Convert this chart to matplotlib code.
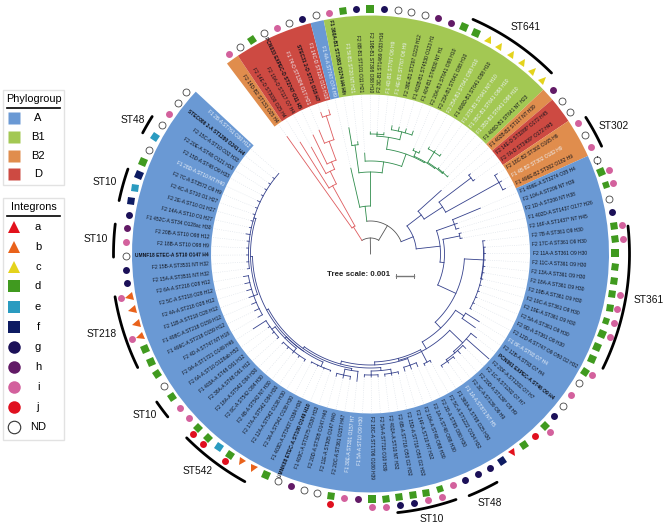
import numpy as np
import matplotlib
matplotlib.use('Agg')
import matplotlib.pyplot as plt
from matplotlib.markers import MarkerStyle
from matplotlib.patches import Rectangle
from matplotlib.transforms import Affine2D

plt.rcParams['font.family'] = ['Liberation Sans', 'DejaVu Sans']

# tips clockwise, starting right after the gap at the top left
labels = [
    'F2 14D-B2 ST131 O25 H4', 'F2 14E-D ST3036 O25 H4', 'F2 19A-D ST117 O7 H4', 'PCN033 EXPEC-D ST2747 O11 H5',
    'F1 74-D ST1304 O17 H21', 'STEC31 2-D ST71 O18 H7', 'F1 14C-D ST120 O15 H18', 'F1 4A-A ST747 O74 H9',
    'F1 360A-B1 ST1081 O174 H4 Hfr', 'F1 5I-B1 ST20 NT H21', 'F2 8B-B1 ST101 O11 H21', 'F2 19B-B1 ST398 O88 H10',
    'F2 3C-B1 ST1469 O33 H16', 'F1 4D-B1 ST767 O6 H9', 'F1 4E-B1 ST767 O6 H9', 'F2 38E-B1 ST297 O223 H12',
    'F1 402B-B1 ST4530 O123 H1', 'F1 404-B1 ST4830 NT H1', 'F2 20A-B1 ST641 O88 H10', 'F2 23A-B1 ST641 O88 H10',
    'F2 25A-B1 ST641 O88 H10', 'F1 490D-B1 ST641 O88 H10', 'F1 27D-B1 ST641 NT H10', 'F1 35C-B1 ST641 O88 H10',
    'F1 35D-B1 ST641 O88 H10', 'F1 400D-B1 ST641 NT H23', 'F1 402B-B2 ST117 NT H39', 'F2 14E-D ST3288* O172 H45',
    'F2 7A-D ST3409* O172 H45', 'F2 18C-B2 ST302 O165 H6', 'F1 4B-B2 ST302 O182 H9', 'F1 496E-B2 ST302 O182 H9',
    'F1 496E-A ST3274 O35 H4', 'F2 10A-A ST206 NT H39', 'F2 1D-A ST206 NT H38', 'F1 402D-A ST1437 O177 H26',
    'F2 16F-A ST1437* NT H45', 'F2 7B-A ST361 O9 H30', 'F2 17C-A ST361 O9 H30', 'F2 11A-A ST361 O9 H30',
    'F2 11C-A ST361 O9 H30', 'F2 13A-A ST361 O9 H30', 'F2 18A-A ST361 O9 H30', 'F2 19B-A ST361 O9 H30',
    'F2 19C-A ST361 O9 H30', 'F2 19E-A ST361 O9 H30', 'F2 5A-A ST361 O9 H30', 'F2 9D-A ST361 O9 H30',
    'F2 12D-A ST747 O9 O50 O2 H32', 'F1 8F-A ST93 O7 H4', 'F2 12B-A ST93 O7 H4', 'PCN061 EXPEC-A ST46 O9 H4',
    'F2 20F-A ST1202 O7 H7', 'F2 1C-A ST1202 O7 H7', 'F2 20D-A ST139* O8 H9', 'F2 3C-A ST139 O9 H9',
    'F1 1A-A ST871 NT H5', 'F1 360A-A ST98 O25 H30', 'F2 5C-A ST1222 O154 H32', 'F2 2D-A ST95 O80 H30',
    'F2 1A-A ST48 O88 H30', 'F2 10A-A ST48 O88 H30', 'F2 14F-A ST10 H7 H32', 'F2 15D-A ST716 O50 O2 H32',
    'F2 6B-A ST716 O50 O2 H32', 'F2 402A-A ST10 NT H32', 'F2 5A-A ST718 O10 H39', 'F2 18C-A ST1706 O180 H39',
    'F1 5A-A ST10 O9 H30', 'F1 30E-A ST301 O157 H7', 'F2 20C-A ST361 O157 H47', 'F2 11E-A ST305 O147 H40',
    'F2 20D-A ST305 O147 H40', 'F1 403C-A ST3275 O530 H33', 'UMNK88 ETEC-A ST100 O149 H10', 'F1 403D-A ST3437 O384 H30',
    'F2 3A-A ST542 O138 H30', 'F2 12A-A ST542 O138 H30', 'F2 17A-A ST542 O84 H30', 'F2 4B-A ST542 NT H30',
    'F2 8C-A ST542 O84 H30', 'F2 18A-A ST542 O84 H30', 'F2 38A-A ST48 O61 H12', 'F1 403A-A ST48 O61 H12',
    'F2 6A-A ST10 O128ab H52', 'F2 9A-A ST1721 O149 H46', 'F2 4D-A ST747 NT H18', 'F1 499C-A ST218 O159 H12',
    'F1 498C-A ST218 O159 H12', 'F2 11B-A ST218 O28 H12', 'F2 4A-A ST218 O28 H12', 'F2 5C-A ST218 O28 H12',
    'F2 6A-A ST218 O28 H12', 'F2 15A-A ST3531 NT H32', 'F2 15B-A ST3531 NT H32', 'UMNF18 ETEC-A ST10 O147 H4',
    'F2 18B-A ST10 O98 H9', 'F2 20B-A ST10 O98 H12', 'F1 452C-A ST34 O128ac H30', 'F2 14A-A ST10 O1 H27',
    'F2 2E-A ST10 O1 H27', 'F2 4C-A ST10 O1 H27', 'F2 7C-A ST3572 O9 H9', 'F1 28D-A ST10 NT H40',
    'F2 15D-A ST48 O9 H33', 'F2 20E-A ST48 O121 H33', 'F2 15C-A ST10 O32 H33', 'STEC086 2-A ST1280 O241 H4',
    'F1 2B-A ST761 O30 H12',
]
white_labels = [4, 6, 7, 9, 13, 14, 20, 22, 23, 24, 30, 49, 56, 68, 69, 103, 108]
bold_labels = [3, 5, 8, 51, 74, 95, 107]

group_names = ['B2', 'D', 'A', 'B1', 'B2', 'D', 'B2', 'A']
group_sizes = [1, 6, 1, 18, 1, 2, 3, 77]

ring1 = ('i ND d ND i ND g ND i d g d g ND ND ND h h d d c c c c c c h ND ND i ND i '
         'ND d d ND g d d d d d d d d d d d d ND i ND g d j d a f g g g i d d d d d d h i d ND ND '
         'h ND d b b d e d d i i d ND d d d b b b b g g ND i h g f e f d ND e ND i ND ND').split()
outer_tips = [33, 34, 37, 38, 42, 43, 44, 45, 48, 53, 62, 63, 64, 65, 66, 67, 70, 78, 80, 81, 89, 92]
outer_kind = ['i', 'i', 'i', 'i', 'i', 'i', 'i', 'i', 'i', 'i', 'i', 'i', 'g', 'g', 'i', 'i', 'j', 'j', 'j', 'j', 'i', 'i']

tip_r = [144, 132, 122, 132, 134, 150, 150, 88, 128, 113, 101, 122, 122, 122, 130, 130, 130, 130, 114, 114,
         122, 122, 122, 110, 110, 110, 95, 128, 128, 150, 150, 150, 119, 92, 92, 93, 93, 115, 115, 115,
         115, 115, 115, 115, 115, 115, 115, 115, 115, 128, 128, 135, 158, 134, 134, 134, 134, 134, 124, 124,
         122, 122, 122, 123, 123, 123, 123, 123, 123, 128, 127, 127, 127, 124, 124, 124, 124, 126, 126, 126,
         126, 126, 126, 126, 126, 139, 129, 129, 129, 129, 129, 129, 129, 124, 124, 124, 124, 124, 126, 124,
         124, 124, 124, 125, 124, 124, 124, 124, 122]

# clades are (radius, children[, colour]), a plain int is a tip index
RED = '#de5b5e'
GREEN = '#2f8c4c'
NAVY = '#35418c'
red_tree = (32, [0, (78, [1, (92, [2, (100, [3, (120, [4, (145, [5, 6])])])])])], RED)
green_tree = (48, [7, (82, [(110, [8, 9]),
                            (93, [10, (106, [(118, [(120, [11, 12, 13]), (126, [14, 15, 16, 17])]),
                                             (107, [(112, [18, 19]),
                                                    (108, [(120, [20, 21, 22]), (109, [23, 24, 25])])])])])])], GREEN)


def bt(a, b):
    return list(range(32 + a, 32 + b + 1))


g7 = (122, bt(61, 76))
g6 = (124, bt(54, 60))
g5 = (118, [(123, bt(41, 44)), (120, [(124, bt(45, 49)), (124, bt(50, 53))])])
g4 = (118, [32 + 37, (124, bt(38, 40))])
g3 = (117, [(121, bt(31, 33)), (121, bt(34, 36))])
g2 = (118, bt(28, 30))
g1 = (122, bt(26, 27))
d2 = (108, [g1, (111, [g2, (114, [g3, (116, [g4, (118, [g5, (120, [g6, (121.5, [g7])])])])])])])
d1 = (128, [32 + 19, 32 + 20, (130, [32 + 21, 32 + 22, (132, bt(23, 25))])])
c2 = (110, [d1, d2])
c1 = (112, bt(17, 18))
st361 = (113, [32 + 5, (113.5, bt(6, 16))])
b2 = (74, [(91, bt(3, 4)), (94, [st361, (102, [c1, c2])])])
blue_tree = (46, [(64, [26, (86, [(126, [27, 28]), (147, [29, 30, 31])])]),
                  (70, [(89, bt(0, 2)), b2])], NAVY)
tree = (16, [red_tree, (33, [green_tree, blue_tree])], '#555555')

group_colors = {'A': '#6a99d4', 'B1': '#a3c853', 'B2': '#e08d4d', 'D': '#cd4a42'}
integron_colors = {'a': '#e2111c', 'b': '#e9621b', 'c': '#e4d31c', 'd': '#409a1f', 'e': '#2a9bc0',
                   'f': '#0d1b62', 'g': '#1b1058', 'h': '#621a66', 'i': '#d3619d', 'j': '#e0101f', 'ND': 'white'}
integron_marks = {'a': '^', 'b': '^', 'c': '^', 'd': 's', 'e': 's', 'f': 's', 'g': 'o', 'h': 'o', 'i': 'o', 'j': 'o', 'ND': 'o'}

st_names = ['ST641', 'ST302', 'ST361', 'ST48', 'ST10', 'ST542', 'ST10', 'ST218', 'ST10', 'ST10', 'ST48']
st_from = [23.6, 57.6, 83.8, 151, 160.8, 208.9, 231.2, 244, 269.3, 282, 298]
st_to = [45, 65, 116.2, 157.8, 174, 225, 235.3, 260.5, 276.7, 289.3, 302.2]
st_r = [256, 255, 259, 261, 260, 260, 260, 259, 257, 257, 258]
st_x = [526, 614, 649, 490, 432, 198, 145, 102, 96, 105, 133]
st_y = [27, 126, 300, 503, 519, 471, 415, 334, 239, 182, 120]

START, STEP = 323.0, 3.21
tip_theta = START + STEP * (np.arange(len(labels)) + 0.5)
CX, CY, RMAX = 370.5, 254, 290
R_IN, R_OUT = 159.5, 238.5
W, H = 669, 530

fig = plt.figure(figsize=(W / 100, H / 100), dpi=100)
ax = fig.add_axes([(CX - RMAX) / W, (H - CY - RMAX) / H, 2 * RMAX / W, 2 * RMAX / H], projection='polar')
ax.set_theta_zero_location('N')
ax.set_theta_direction(-1)
ax.set_rlim(0, RMAX)
ax.set_axis_off()

# coloured band
edge = START
for name, size in zip(group_names, group_sizes):
    ax.bar(np.radians(edge + size * STEP / 2), R_OUT - R_IN, width=np.radians(size * STEP), bottom=R_IN,
           color=group_colors[name], linewidth=0, zorder=1)
    edge += size * STEP

# dotted leaders, then the tree
for th, r in zip(tip_theta, tip_r):
    ax.plot(np.radians([th, th]), [r, R_IN], color='#d5dce4', lw=0.4, ls=(0, (1.5, 2.5)), zorder=2)


def node_angle(node):
    if isinstance(node, int):
        return tip_theta[node]
    a = [node_angle(k) for k in node[1]]
    return (min(a) + max(a)) / 2


def draw(node, r0, color):
    th = node_angle(node)
    if isinstance(node, int):
        ax.plot(np.radians([th, th]), [r0, tip_r[node]], color=color, lw=0.6, zorder=3)
        return
    r = node[0]
    ax.plot(np.radians([th, th]), [r0, r], color=color, lw=0.6, zorder=3)
    a = [node_angle(k) for k in node[1]]
    ax.plot(np.radians(np.linspace(min(a), max(a), 60)), np.full(60, r), color=color, lw=0.6, zorder=3)
    for k in node[1]:
        draw(k, r, k[2] if not isinstance(k, int) and len(k) > 2 else color)


draw(tree, 0, tree[2])

# tip labels
for k, (th, s) in enumerate(zip(tip_theta, labels)):
    t = th % 360
    right = t < 180
    ax.text(np.radians(th), 162, s, fontsize=3.5,
            rotation=(90 - t) if right else (270 - t), rotation_mode='anchor',
            ha='left' if right else 'right', va='center',
            color='#eef3fa' if k in white_labels else '#10131c',
            fontweight='bold' if k in bold_labels else 'normal', zorder=4)


def put_mark(th, r, kind):
    ms = MarkerStyle(integron_marks[kind], transform=Affine2D().rotate_deg(-th))
    open_one = kind == 'ND'
    size = {'^': 5.6, 's': 5.2, 'o': 5.0}[integron_marks[kind]]
    ax.plot([np.radians(th)], [r], marker=ms, ms=size, mfc=integron_colors[kind],
            mec='#444444' if open_one else 'none', mew=0.6 if open_one else 0, ls='none', zorder=5)


for th, kind in zip(tip_theta, ring1):
    put_mark(th, 245, kind)
for k, kind in zip(outer_tips, outer_kind):
    put_mark(tip_theta[k], 253, kind)

# sequence type arcs
for a, b, r in zip(st_from, st_to, st_r):
    ax.plot(np.radians(np.linspace(a, b, 40)), np.full(40, r), color='black', lw=2.0, solid_capstyle='round', zorder=5)

# overlay in image pixels: legends and free text
ov = fig.add_axes([0, 0, 1, 1])
ov.set_xlim(0, W)
ov.set_ylim(H, 0)
ov.set_axis_off()
ov.patch.set_alpha(0)

for name, x, y in zip(st_names, st_x, st_y):
    ov.text(x, y, name, fontsize=7.4, ha='center', va='center', color='#111111')

ov.text(358.5, 275, 'Tree scale: 0.001', fontsize=5.7, fontweight='bold', ha='center', va='center', color='#222222')
ov.plot([396, 414], [275.7, 275.7], color='#777777', lw=1)
ov.plot([396, 396], [273.5, 278], color='#777777', lw=0.7)
ov.plot([414, 414], [273.5, 278], color='#777777', lw=0.7)

ov.add_patch(Rectangle((3, 90), 61, 95, fc='white', ec='#e2e2e2', lw=1))
ov.text(33.5, 99, 'Phylogroup', fontsize=7.8, ha='center', va='center')
ov.plot([7, 60], [108, 108], color='black', lw=1.2)
for name, y in zip(['A', 'B1', 'B2', 'D'], [118, 137, 156, 174]):
    ov.plot([13.5], [y], marker='s', ms=9.2, mfc=group_colors[name], mec='none', ls='none')
    ov.text(38, y, name, fontsize=8, ha='center', va='center')

ov.add_patch(Rectangle((3, 198), 61, 242, fc='white', ec='#e2e2e2', lw=1))
ov.text(34, 207, 'Integrons', fontsize=7.8, ha='center', va='center')
ov.plot([7, 60], [216, 216], color='black', lw=1.2)
for kind, y in zip(integron_marks, [227, 247, 267, 286, 307, 327, 347, 367, 387, 407, 427]):
    ov.plot([13.5], [y], marker=integron_marks[kind], ms=9, mfc=integron_colors[kind],
            mec='#333333' if kind == 'ND' else 'none', mew=0.8 if kind == 'ND' else 0, ls='none')
    ov.text(38, y, kind, fontsize=8, ha='center', va='center')

fig.savefig('out.png', dpi=100)
